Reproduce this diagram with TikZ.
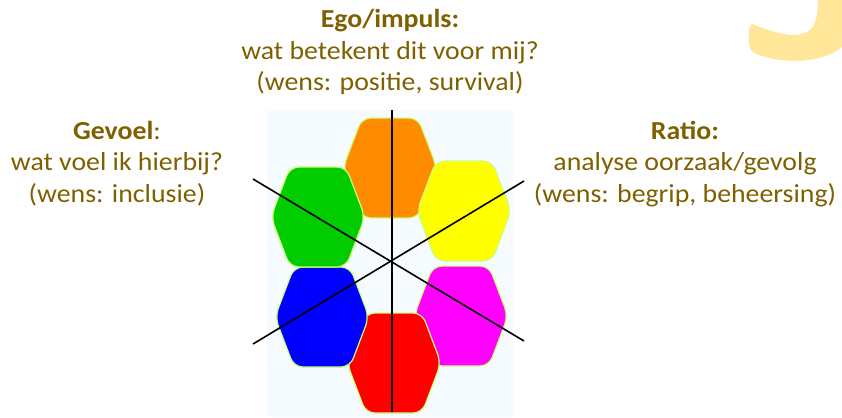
\documentclass[tikz,border=0pt]{standalone}
\usepackage{fontspec}
\setmainfont[FakeStretch=1.07]{Carlito}
\definecolor{ink}{RGB}{127,96,0}
\definecolor{deco}{RGB}{255,230,153}
\definecolor{panel}{RGB}{246,251,255}
\definecolor{rim}{RGB}{204,255,120}
\definecolor{petalorange}{RGB}{255,140,0}
\definecolor{petalyellow}{RGB}{255,255,0}
\definecolor{petalmagenta}{RGB}{255,0,255}
\definecolor{petalred}{RGB}{255,0,0}
\definecolor{petalblue}{RGB}{0,0,255}
\definecolor{petalgreen}{RGB}{0,204,0}
\begin{document}
\begin{tikzpicture}[x=1pt,y=-1pt,
  every node/.style={font=\fontsize{26}{31.5}\selectfont,text=ink,align=center,inner sep=0pt},
  petal/.style={draw=rim,line width=1.2pt,rounded corners=9pt},
  spoke/.style={line width=1.6pt,black}]
  \useasboundingbox (0,0) rectangle (842,417);
  % slide number fragment, top right
  \fill[deco] (752,24) .. controls (775,33) and (797,40) .. (810,30) .. controls (817,24) and (818,10) .. (818,0) -- (842,0) -- (842,47) .. controls (825,62) and (785,66) .. (754,53) .. controls (747,50) and (747,27) .. (752,24) -- cycle;
  % flower
  \fill[panel] (267,110) rectangle (513,417);
  \foreach \c/\x/\y in {petalorange/390/168,petalyellow/464/211,petalmagenta/461/316,petalred/394/363,petalblue/322/317,petalgreen/318/217}
    \draw[petal,fill=\c] (\x,\y) +(-47,0) -- +(-28,-50) -- +(28,-50) -- +(47,0) -- +(28,50) -- +(-28,50) -- cycle;
  \coordinate (top) at (392,110);
  \coordinate (bot) at (392,412);
  \coordinate (ul) at (253,179);
  \coordinate (lr) at (524,341);
  \coordinate (ll) at (253,344);
  \coordinate (ur) at (524,181);
  \draw[spoke] (top) -- (bot);
  \draw[spoke] (ul) -- (lr);
  \draw[spoke] (ll) -- (ur);
  % labels
  \node[anchor=base] (ego) at (390,91) {\textbf{Ego/impuls:}\\ wat betekent dit voor mij?\\ (wens: positie, survival)};
  \node[anchor=base] (gevoel) at (117,202) {\textbf{Gevoel}:\\ wat voel ik hierbij?\\ (wens: inclusie)};
  \node[anchor=base] (ratio) at (685,202) {\textbf{Ratio:}\\ analyse oorzaak/gevolg\\ (wens: begrip, beheersing)};
\end{tikzpicture}
\end{document}
